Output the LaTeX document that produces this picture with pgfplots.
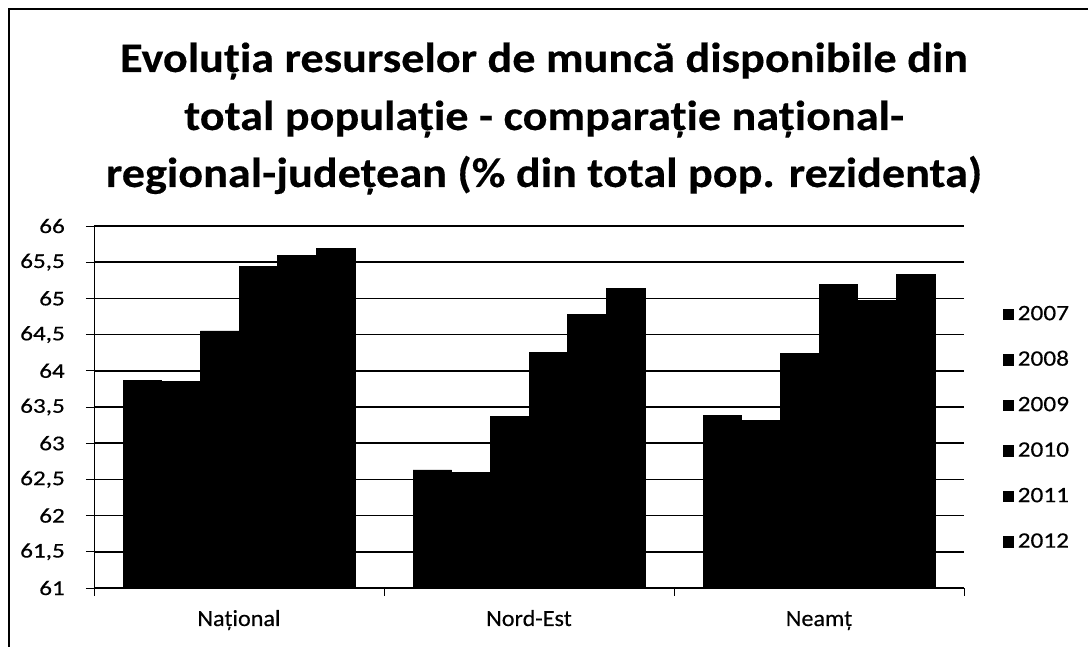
\documentclass[border=0pt]{standalone}
\usepackage{fontspec}
\setmainfont{Carlito}
\newfontfamily\titlefont[FakeStretch=1.1, FakeBold=0.3]{Carlito}
\newfontfamily\tickfont[FakeStretch=1.2, FakeBold=0.4]{Carlito}
\newfontfamily\legfont[FakeStretch=1.15, FakeBold=0.4]{Carlito}
\newfontfamily\catfont[FakeStretch=1.05, FakeBold=0.3]{Carlito}
\usepackage{pgfplots}
\pgfplotsset{compat=1.18}
\begin{document}
\begin{tikzpicture}[x=1pt,y=1pt]
\path[use as bounding box] (0,0) rectangle (1088,647);
\draw[line width=1.2pt] (9,0) -- (9,638) -- (1088,638);
\node[anchor=base, font=\titlefont\fontsize{42}{48}\selectfont\bfseries, inner sep=0pt] at (544,575) {Evoluția resurselor de muncă disponibile din};
\node[anchor=base, font=\titlefont\fontsize{42}{48}\selectfont\bfseries, inner sep=0pt] at (544,517) {total populație - comparație național-};
\node[anchor=base, font=\titlefont\fontsize{42}{48}\selectfont\bfseries, inner sep=0pt] at (544,460) {regional-județean (\% din total pop. rezidenta)};
\begin{axis}[
  at={(94pt,59pt)}, anchor=south west,
  scale only axis, width=870pt, height=362pt,
  xmin=-0.5, xmax=2.5, ymin=61, ymax=66,
  axis x line*=bottom, axis y line*=left,
  axis line style={line width=0.8pt, black},
  ytick={61,61.5,62,62.5,63,63.5,64,64.5,65,65.5,66},
  yticklabel style={/pgf/number format/use comma, font=\tickfont\fontsize{21}{25}\selectfont, anchor=east, inner sep=0pt, xshift=-21pt},
  xtick={-0.5,0.5,1.5,2.5}, xticklabels={},
  extra x ticks={0,1,2},
  extra x tick labels={Național,Nord-Est,Neamț},
  extra x tick style={major tick length=0pt, xticklabel style={font=\catfont\fontsize{23}{27}\selectfont, anchor=base, inner sep=0pt, yshift=-38pt}},
  tick align=outside, major tick length=8pt,
  tick style={black, line width=0.8pt},
  /pgf/number format/assume math mode=true,
  ymajorgrids, grid style={black, line width=1.6pt},
  legend style={at={(1.0445,0.7785)}, anchor=north west, draw=none, fill=none, inner sep=0pt, outer sep=0pt,
    font=\legfont\fontsize{22}{26}\selectfont, row sep=31.5pt,
    nodes={inner sep=0pt, text height=14pt, text depth=0pt},
    /tikz/every odd column/.append style={column sep=4pt}},
  legend cell align=left,
  legend image code/.code={\fill[black] (0pt,-6.5pt) rectangle (10.5pt,4pt);},
]
\addplot[ybar, fill=black, draw=black, line width=0.5pt, bar width=0.1333, bar shift=-0.3333] coordinates {(0,63.87) (1,62.63) (2,63.38)};
\addplot[ybar, fill=black, draw=black, line width=0.5pt, bar width=0.1333, bar shift=-0.2] coordinates {(0,63.85) (1,62.60) (2,63.32)};
\addplot[ybar, fill=black, draw=black, line width=0.5pt, bar width=0.1333, bar shift=-0.0667] coordinates {(0,64.55) (1,63.37) (2,64.24)};
\addplot[ybar, fill=black, draw=black, line width=0.5pt, bar width=0.1333, bar shift=0.0667] coordinates {(0,65.44) (1,64.25) (2,65.19)};
\addplot[ybar, fill=black, draw=black, line width=0.5pt, bar width=0.1333, bar shift=0.2] coordinates {(0,65.59) (1,64.78) (2,64.97)};
\addplot[ybar, fill=black, draw=black, line width=0.5pt, bar width=0.1333, bar shift=0.3333] coordinates {(0,65.69) (1,65.14) (2,65.33)};
\legend{2007,2008,2009,2010,2011,2012}
\end{axis}
\end{tikzpicture}
\end{document}
